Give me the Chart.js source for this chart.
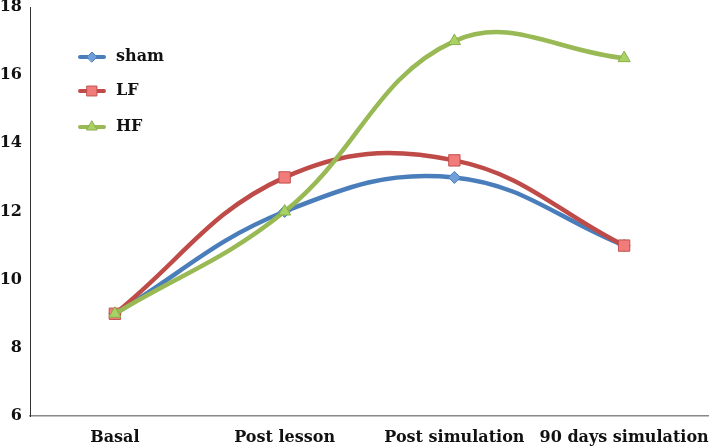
<!DOCTYPE html>
<html><head><meta charset="utf-8">
<script src="https://cdn.jsdelivr.net/npm/chart.js@4.4.0/dist/chart.umd.min.js"></script>
<style>html,body{margin:0;padding:0;background:#fff}#wrap{width:709px;height:447px}</style>
</head><body><div id="wrap"><canvas id="c" width="709" height="447"></canvas></div>
<script>
const categories = ["Basal", "Post lesson", "Post simulation", "90 days simulation"];
const shamValues = [9, 12, 13, 11];
const lfValues = [9, 13, 13.5, 11];
const hfValues = [9, 12, 17, 16.5];
const seriesNames = ["sham", "LF", "HF"];
const yTicks = [6, 8, 10, 12, 14, 16, 18];

const FONT = "'DejaVu Serif', serif";
const FSIZE = 16;

const legendPlugin = {
  id: 'insideLegend',
  afterDatasetsDraw(chart) {
    const ctx = chart.ctx;
    const rows = [57, 91, 127];
    chart.data.datasets.forEach((ds, i) => {
      const y = rows[i];
      ctx.save();
      ctx.strokeStyle = ds.borderColor;
      ctx.lineWidth = 4;
      ctx.lineCap = 'round';
      ctx.beginPath(); ctx.moveTo(80, y); ctx.lineTo(104, y); ctx.stroke();
      ctx.fillStyle = ds.pointBackgroundColor;
      ctx.strokeStyle = ds.pointBorderColor;
      ctx.lineWidth = ds.pointBorderWidth;
      const r = ds.pointStyle === 'rect' ? 7 : ds.pointStyle === 'triangle' ? 6 : 5;
      Chart.helpers.drawPoint(ctx, {pointStyle: ds.pointStyle, radius: r, rotation: 0, borderWidth: ds.pointBorderWidth}, 92, y);
      ctx.fillStyle = '#111';
      ctx.font = "bold " + FSIZE + "px " + FONT;
      ctx.textBaseline = 'middle';
      ctx.textAlign = 'left';
      ctx.fillText(ds.label, 116, y);
      ctx.restore();
    });
  }
};

new Chart(document.getElementById('c'), {
  type: 'line',
  data: {
    labels: categories,
    datasets: [
      {label: seriesNames[0], data: shamValues, borderColor: '#4A7EBB', pointBackgroundColor: '#6E9FDB', pointBorderColor: '#4A7EBB', pointStyle: 'rectRot', pointRadius: 6, order: 2},
      {label: seriesNames[1], data: lfValues, borderColor: '#BE4B48', pointBackgroundColor: '#F27C7A', pointBorderColor: '#C0504D', pointStyle: 'rect', pointRadius: 8, order: 1},
      {label: seriesNames[2], data: hfValues, borderColor: '#98B954', pointBackgroundColor: '#A9D264', pointBorderColor: '#8AAE4A', pointStyle: 'triangle', pointRadius: 7, order: 0}
    ].map(d => Object.assign({borderWidth: 4.5, tension: 0.4, pointBorderWidth: 1, fill: false, pointHoverRadius: d.pointRadius}, d))
  },
  options: {
    responsive: false,
    animation: false,
    layout: {autoPadding: false, padding: {top: 7, right: 0, left: 0, bottom: 0}},
    plugins: {legend: {display: false}, tooltip: {enabled: false}},
    scales: {
      x: {
        offset: true,
        grid: {display: false, drawTicks: false, tickLength: 0},
        border: {display: true, color: '#888', width: 1.5},
        ticks: {color: '#111', font: {family: FONT, size: FSIZE, weight: 'bold'}, padding: 12, maxRotation: 0, autoSkip: false},
        afterFit(s) { s.height = 31; s.paddingLeft = 0; s.paddingRight = 0; }
      },
      y: {
        min: 6, max: 18,
        grid: {display: false, drawTicks: false, tickLength: 0},
        border: {display: true, color: '#333', width: 1},
        afterBuildTicks(s) { s.ticks = yTicks.map(v => ({value: v})); },
        ticks: {color: '#111', font: {family: FONT, size: FSIZE, weight: 'bold'}, padding: 8},
        afterFit(s) { s.width = 30; s.paddingTop = 0; s.paddingBottom = 0; }
      }
    }
  },
  plugins: [legendPlugin]
});
</script></body></html>
